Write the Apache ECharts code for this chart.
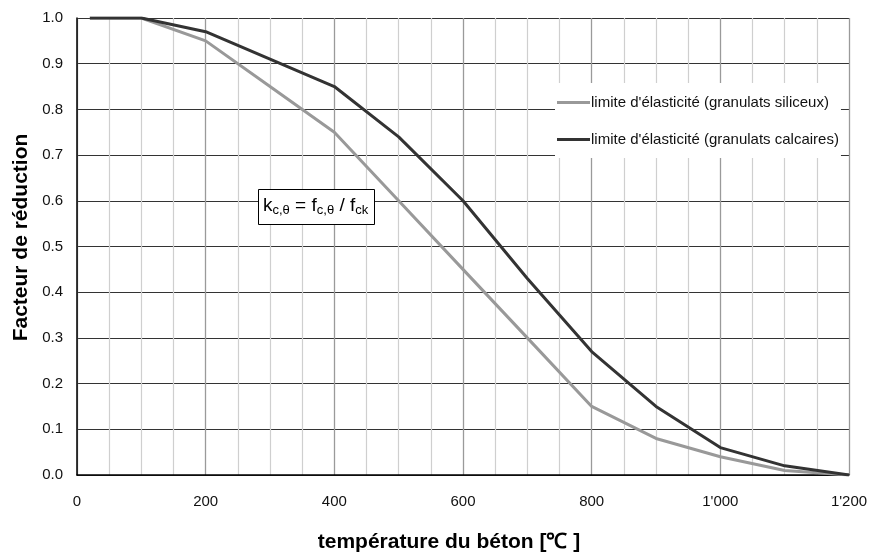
<!DOCTYPE html>
<html>
<head>
<meta charset="utf-8">
<script src="https://cdn.jsdelivr.net/npm/echarts@6/dist/echarts.min.js"></script>
<style>html,body{margin:0;padding:0;background:#fff}#c{width:872px;height:555px}</style>
</head>
<body>
<div id="c"></div>
<script>
const temperatures = [20, 100, 200, 300, 400, 500, 600, 700, 800, 900, 1000, 1100, 1200];
const siliceux = [1.0, 1.0, 0.95, 0.85, 0.75, 0.60, 0.45, 0.30, 0.15, 0.08, 0.04, 0.01, 0.0];
const calcaires = [1.0, 1.0, 0.97, 0.91, 0.85, 0.74, 0.60, 0.43, 0.27, 0.15, 0.06, 0.02, 0.0];
const seriesNames = ["limite d'élasticité (granulats siliceux)", "limite d'élasticité (granulats calcaires)"];
const xTitle = 'température du béton [℃ ]';
const yTitle = 'Facteur de réduction';

const font = 'Liberation Sans, Arial, sans-serif';
const chart = echarts.init(document.getElementById('c'));
const pairs = (ys) => temperatures.map((t, i) => [t, ys[i]]);

chart.setOption({
  animation: false,
  backgroundColor: '#fff',
  grid: { left: 77, right: 23, top: 18, bottom: 80, containLabel: false, outerBoundsMode: 'none' },
  xAxis: {
    type: 'value', min: 0, max: 1200, interval: 200,
    name: xTitle, nameLocation: 'middle', nameGap: 57,
    nameTextStyle: { fontFamily: font, fontSize: 21, fontWeight: 'bold', color: '#000', padding: [0, 28, 0, 0] },
    axisLine: { show: true, onZero: false, lineStyle: { color: '#000', width: 1.5 } },
    axisTick: { show: false },
    axisLabel: { fontFamily: font, fontSize: 15, color: '#111', margin: 19,
      formatter: v => v >= 1000 ? Math.floor(v / 1000) + "'" + String(v % 1000).padStart(3, '0') : String(v) },
    splitLine: { show: true, lineStyle: { color: '#9a9a9a', width: 1.3 } },
    minorTick: { show: false, splitNumber: 4 },
    minorSplitLine: { show: true, lineStyle: { color: '#cfcfcf', width: 1.2 } }
  },
  yAxis: {
    type: 'value', min: 0, max: 1, interval: 0.1,
    name: yTitle, nameLocation: 'middle', nameGap: 40, nameRotate: 90,
    nameTextStyle: { fontFamily: font, fontSize: 21, fontWeight: 'bold', color: '#000', padding: [0, 0, 0, 18] },
    axisLine: { show: true, lineStyle: { color: '#000', width: 1.5 } },
    axisTick: { show: false },
    axisLabel: { fontFamily: font, fontSize: 15, color: '#111', margin: 14, formatter: v => v.toFixed(1) },
    splitLine: { show: true, lineStyle: { color: '#333', width: 1.2 } }
  },
  legend: {
    orient: 'vertical', left: 555, top: 83,
    padding: [12, 2, 11, 2],
    backgroundColor: '#fff',
    itemWidth: 33, itemHeight: 3, icon: 'rect', itemGap: 22,
    textStyle: { fontFamily: font, fontSize: 15, color: '#111', padding: [0, 0, 0, -4] },
    data: seriesNames
  },
  series: [
    { name: seriesNames[0], type: 'line', data: pairs(siliceux), showSymbol: false,
      lineStyle: { color: '#999', width: 3 }, itemStyle: { color: '#999' }, z: 3 },
    { name: seriesNames[1], type: 'line', data: pairs(calcaires), showSymbol: false,
      lineStyle: { color: '#333', width: 3 }, itemStyle: { color: '#333' }, z: 4 }
  ],
  graphic: [
    { type: 'rect', left: 258, top: 189, z: 100,
      shape: { width: 116, height: 35 },
      style: { fill: '#fff', stroke: '#000', lineWidth: 1 } },
    { type: 'text', left: 263, top: 196, z: 101,
      style: {
        text: 'k{s|c,θ} = f{s|c,θ} / f{s|ck}',
        font: '19px ' + font, fill: '#000',
        rich: {
          s: { fontSize: 13, fontFamily: font, fill: '#000', verticalAlign: 'bottom', padding: [0, 0, -2, 0] }
        }
      } }
  ]
});
</script>
</body>
</html>
